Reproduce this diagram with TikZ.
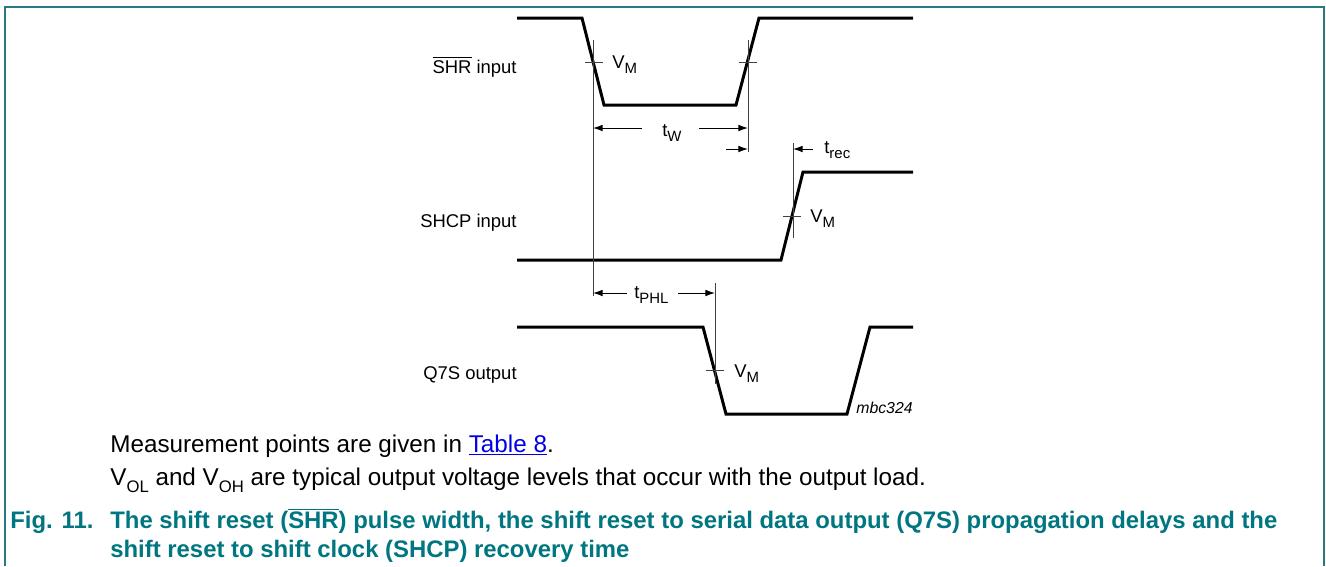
\documentclass[tikz,border=0pt]{standalone}
\usepackage{fontspec}
\setmainfont{Liberation Sans}
\usetikzlibrary{arrows.meta,calc}
\definecolor{capteal}{RGB}{0,118,128}
\definecolor{frameteal}{RGB}{40,122,130}
\definecolor{linkblue}{RGB}{0,0,230}
\tikzset{
  wave/.style={line width=1.7pt, line join=miter},
  refline/.style={line width=0.55pt, black!75},
  vmtick/.style={line width=0.55pt, black!75},
  dimarrow/.style={line width=0.55pt, -{Latex[length=5.5pt,width=3.8pt]}},
  siglabel/.style={anchor=base east, inner sep=0pt, font=\fontsize{10.5}{12}\selectfont},
  vlabel/.style={anchor=base west, inner sep=0pt, font=\fontsize{10.5}{12}\selectfont},
  note/.style={anchor=base west, inner sep=0pt, font=\fontsize{13.8}{16}\selectfont},
  captext/.style={anchor=base west, inner sep=0pt, text=capteal, font=\bfseries\fontsize{13.6}{16}\selectfont}
}
\newcommand{\lsub}[2][8.5]{\raisebox{-0.32em}{\fontsize{#1}{#1}\selectfont #2}}

\begin{document}
\begin{tikzpicture}[x=0.02cm, y=-0.02cm]
    \useasboundingbox (0,0) rectangle (1326,566);

    % 1. Marco
    \draw[frameteal, line width=1.1pt] (5,566) -- (5,7) -- (1324,7) -- (1324,566);

    % 2. Formas de onda
    \draw[wave] (517,18) -- (582,18) -- (604,105) -- (736,105) -- (759,18) -- (913,18);
    \draw[wave] (517,260) -- (781,260) -- (803,172) -- (913,172);
    \draw[wave] (517,327) -- (703,327) -- (726,414) -- (847,414) -- (870,327) -- (913,327);

    % Etiquetas de las señales
    \node[siglabel] (shrlab) at (517,73) {$\overline{\mbox{SHR}}$ input};
    \node[siglabel] (shcplab) at (517,227) {SHCP input};
    \node[siglabel] (q7slab) at (517,379) {Q7S output};

    % 3. Lineas de referencia
    \coordinate (ref1top) at (593,40);  \coordinate (ref1bot) at (593,296);
    \coordinate (ref2top) at (748,40);  \coordinate (ref2bot) at (748,152);
    \coordinate (ref3top) at (793,143); \coordinate (ref3bot) at (793,238);
    \coordinate (ref4top) at (715,283); \coordinate (ref4bot) at (715,384);
    \foreach \r in {1,...,4} {
        \draw[refline] (ref\r top) -- (ref\r bot);
    }

    % Marcas V_M
    \foreach \x/\y in {594/62, 748/62, 792/216, 715/370} {
        \draw[vmtick] (\x-9,\y) -- (\x+9,\y);
    }
    \node[vlabel] (vm1) at (612,68) {V\lsub{M}};
    \node[vlabel] (vm2) at (810,222) {V\lsub{M}};
    \node[vlabel] (vm3) at (734,377) {V\lsub{M}};

    % 4. Cotas de tiempo
    \coordinate (twl) at (593,128);  \coordinate (twr) at (748,128);
    \node[vlabel] (tw) at (662,136) {t\lsub{W}};
    \draw[dimarrow] ($(twl)+(49,0)$) -- (twl);
    \draw[dimarrow] ($(twr)+(-49,0)$) -- (twr);

    \coordinate (recl) at (748,149); \coordinate (recr) at (793,149);
    \draw[dimarrow] ($(recl)+(-22,0)$) -- (recl);
    \draw[dimarrow] ($(recr)+(20,0)$) -- (recr);
    \node[vlabel] (trec) at (824,153) {t\lsub{rec}};

    \coordinate (phll) at (593,293); \coordinate (phlr) at (715,293);
    \draw[dimarrow] ($(phll)+(34,0)$) -- (phll);
    \draw[dimarrow] ($(phlr)+(-37,0)$) -- (phlr);
    \node[vlabel] (tphl) at (634,298) {t\lsub{PHL}};

    \node[vlabel, font=\itshape\fontsize{9}{10}\selectfont] (code) at (856,413) {mbc324};

    % 5. Notas y pie de figura
    \node[note] (note1) at (110,452) {Measurement points are given in \textcolor{linkblue}{\underline{Table 8}}.};
    \node[note] (note2) at (110,485) {V\lsub[9.5]{OL} and V\lsub[9.5]{OH} are typical output voltage levels that occur with the output load.};

    \node[captext] (figno) at (10,528) {Fig. 11.};
    \node[captext] (cap1) at (110,528) {The shift reset ($\overline{\mbox{\bfseries SHR}}$) pulse width, the shift reset to serial data output (Q7S) propagation delays and the};
    \node[captext] (cap2) at (110,557) {shift reset to shift clock (SHCP) recovery time};
\end{tikzpicture}
\end{document}
